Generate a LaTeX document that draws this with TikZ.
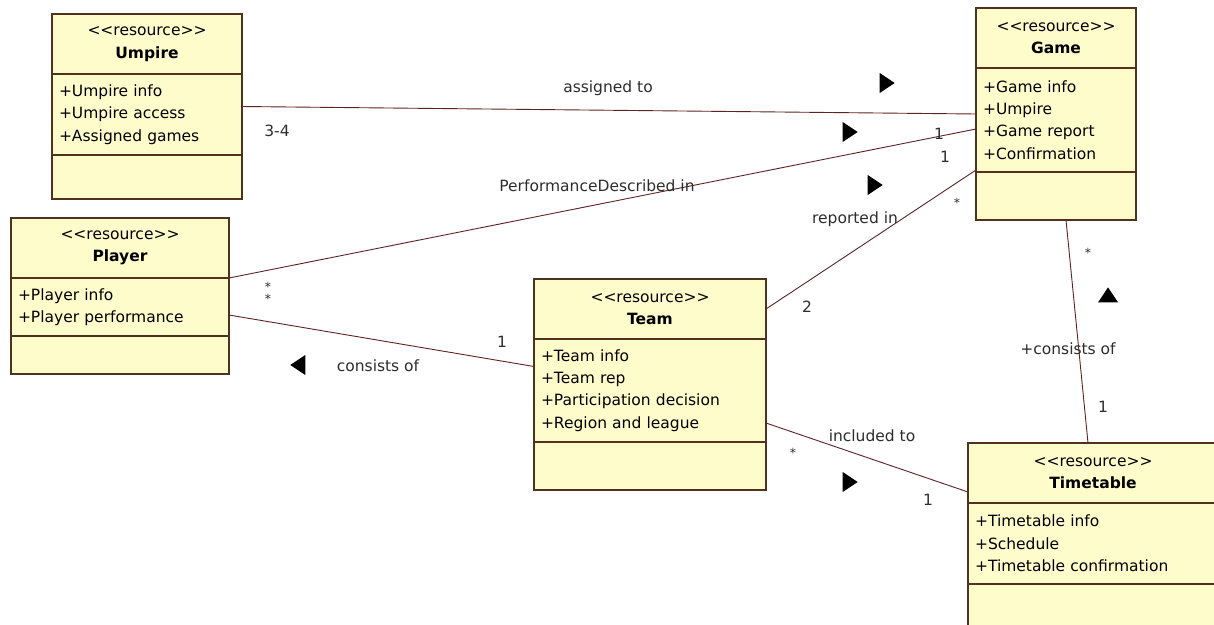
\documentclass[tikz,border=0pt]{standalone}
\usepackage{fontspec}
\setmainfont{DejaVu Sans}
\usepackage{tikz}
\usetikzlibrary{positioning,shapes.geometric}
\definecolor{boxfill}{RGB}{255,252,204}
\definecolor{boxline}{RGB}{80,50,30}
\definecolor{assocline}{RGB}{95,35,35}
\definecolor{labeltext}{RGB}{45,45,45}

\begin{document}
\begin{tikzpicture}[x=1pt,y=-1pt,
font=\fontsize{15.5}{22.3}\selectfont,
head/.style={rectangle,draw=boxline,fill=boxfill,line width=1.2pt,outer sep=0pt,inner xsep=6pt,inner ysep=0pt,minimum height=60pt,align=center,anchor=north west},
attrs/.style={rectangle,draw=boxline,fill=boxfill,line width=1.2pt,outer sep=0pt,inner xsep=7pt,inner ysep=0pt,align=left},
opers/.style={rectangle,draw=boxline,fill=boxfill,line width=1.2pt,outer sep=0pt,inner sep=0pt},
assoc/.style={draw=assocline,line width=0.9pt},
navi/.style={isosceles triangle,isosceles triangle stretches,fill=black,inner sep=0pt,minimum width=20pt,minimum height=15pt},
lbl/.style={text=labeltext,inner sep=1pt},
manymult/.style={text=labeltext,inner sep=1pt,font=\fontsize{12.5}{13}\selectfont},
]
\useasboundingbox [fill=white] (0,0) rectangle (1214,624);
\clip (0,0) rectangle (1214,624);

\node [head,text width=178pt] (umpireH) at (52,14) {<\kern0pt<resource>\kern0pt>\\\textbf{Umpire}};
\node [attrs,text width=176pt,minimum height=81pt] (umpireA) [below=0pt of umpireH] {+Umpire info\\+Umpire access\\+Assigned games};
\node [opers,minimum width=190pt,minimum height=44pt] (umpireO) [below=0pt of umpireA] {};

\node [head,text width=148pt] (gameH) at (976,8) {<\kern0pt<resource>\kern0pt>\\\textbf{Game}};
\node [attrs,text width=146pt,minimum height=104pt] (gameA) [below=0pt of gameH] {+Game info\\+Umpire\\+Game report\\+Confirmation};
\node [opers,minimum width=160pt,minimum height=48pt] (gameO) [below=0pt of gameA] {};

\node [head,text width=206pt] (playerH) at (11,218) {<\kern0pt<resource>\kern0pt>\\\textbf{Player}};
\node [attrs,text width=204pt,minimum height=58pt] (playerA) [below=0pt of playerH] {+Player info\\+Player performance};
\node [opers,minimum width=218pt,minimum height=38pt] (playerO) [below=0pt of playerA] {};

\node [head,text width=220pt] (teamH) at (534,279) {<\kern0pt<resource>\kern0pt>\\\textbf{Team}};
\node [attrs,text width=218pt,minimum height=103pt] (teamA) [below=0pt of teamH] {+Team info\\+Team rep\\+Participation decision\\+Region and league};
\node [opers,minimum width=232pt,minimum height=48pt] (teamO) [below=0pt of teamA] {};

\node [head,text width=238pt] (timeH) at (968,443) {<\kern0pt<resource>\kern0pt>\\\textbf{Timetable}};
\node [attrs,text width=236pt,minimum height=81pt] (timeA) [below=0pt of timeH] {+Timetable info\\+Schedule\\+Timetable confirmation};
\node [opers,minimum width=250pt,minimum height=50pt] (timeO) [below=0pt of timeA] {};

\draw [assoc] ([yshift=8pt]umpireA.east) to ([yshift=6pt]gameA.west);
\draw [assoc] (playerH.south east) to ([yshift=-9pt]gameA.west);
\draw [assoc] (teamH.east) to ([yshift=2pt]gameA.south west);
\draw [assoc] ([yshift=-8pt]playerA.east) to ([yshift=24pt]teamA.west);
\draw [assoc] ([yshift=19pt]teamA.south east) to ([yshift=11pt]timeH.south west);
\draw [assoc] ([xshift=10pt]gameO.south) to ([xshift=-5pt]timeH.north);

\node [lbl] (assignedL) at (608,88) {assigned to};
\node [lbl] (umpireM) at (277,131) {3-4};
\node [lbl] (perfL) at (597,186) {PerformanceDescribed in};
\node [lbl] (gameMa) at (939,134) {1};
\node [lbl] (gameMb) at (945,157) {1};
\node [manymult] (gameMc) at (957,203) {*};
\node [lbl] (reportedL) at (855,219) {reported in};
\node [lbl] (teamMa) at (807,307) {2};
\node [manymult] (playerMa) at (268,287) {*};
\node [manymult] (playerMb) at (268,299) {*};
\node [lbl] (consistsL) at (378,366) {consists of};
\node [lbl] (teamMb) at (502,342) {1};
\node [lbl] (includedL) at (872,436) {included to};
\node [manymult] (teamMc) at (793,453) {*};
\node [lbl] (timeMa) at (928,500) {1};
\node [lbl] (gameConsistsL) at (1068,349) {+consists of};
\node [manymult] (gameMd) at (1088,253) {*};
\node [lbl] (timeMb) at (1103,407) {1};

\foreach \nm/\px/\py in {assigned/885/83, perf/848/132, reported/873/185, included/848/482}
{
\node [navi] (nav\nm) at (\px,\py) {};
}
\node [navi,rotate=180] (navconsists) at (300,365) {};
\node [navi,rotate=90] (navgame) at (1108,297) {};

\end{tikzpicture}
\end{document}
